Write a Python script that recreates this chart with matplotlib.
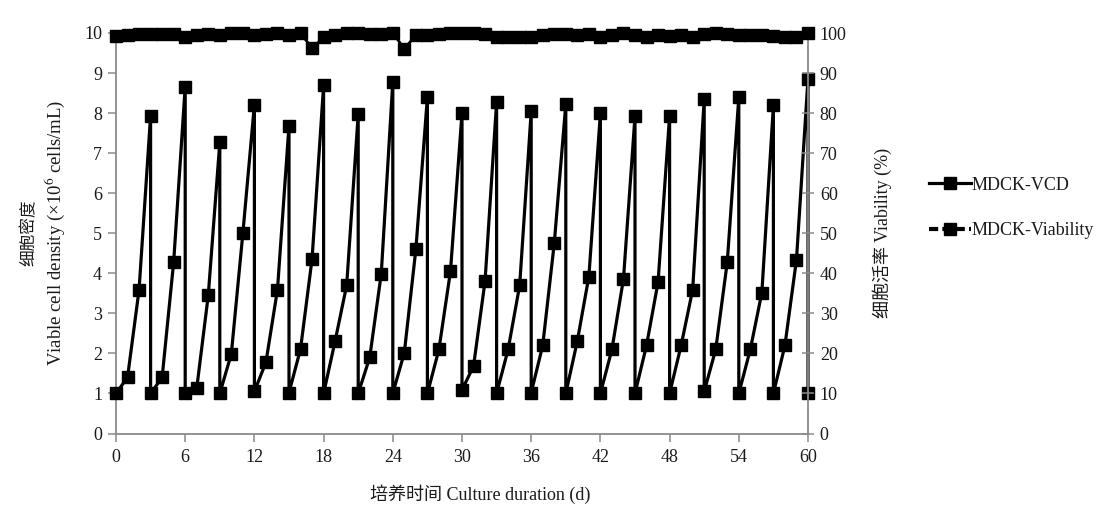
import matplotlib
matplotlib.use("Agg")
import matplotlib.pyplot as plt
from matplotlib.lines import Line2D

# -------------------------------------------------
# Data
# -------------------------------------------------
# VCD: each passage starts at ~1e6 cells/mL and grows for 3 days,
# then drops back (two points at the same day).
vcd_days = [0, 1, 2, 3, 3, 4, 5, 6, 6, 7, 8, 9, 9, 10, 11, 12,
            12, 13, 14, 15, 15, 16, 17, 18, 18, 19, 20, 21, 21, 22, 23, 24,
            24, 25, 26, 27, 27, 28, 29, 30, 30, 31, 32, 33, 33, 34, 35, 36,
            36, 37, 38, 39, 39, 40, 41, 42, 42, 43, 44, 45, 45, 46, 47, 48,
            48, 49, 50, 51, 51, 52, 53, 54, 54, 55, 56, 57, 57, 58, 59, 60,
            60]
vcd_values = [1.00, 1.40, 3.59, 7.94, 1.00, 1.40, 4.28, 8.66,
              1.00, 1.13, 3.45, 7.27, 1.00, 1.99, 5.00, 8.21,
              1.05, 1.78, 3.59, 7.69, 1.02, 2.11, 4.36, 8.69,
              1.00, 2.31, 3.70, 7.97, 1.00, 1.90, 3.99, 8.78,
              1.00, 2.02, 4.60, 8.40, 1.00, 2.10, 4.05, 8.00,
              1.09, 1.68, 3.81, 8.27, 1.00, 2.10, 3.70, 8.04,
              1.02, 2.20, 4.75, 8.22, 1.00, 2.31, 3.92, 8.00,
              1.00, 2.10, 3.86, 7.92, 1.00, 2.20, 3.78, 7.94,
              1.00, 2.20, 3.59, 8.34, 1.05, 2.10, 4.28, 8.39,
              1.00, 2.10, 3.52, 8.19, 1.00, 2.20, 4.34, 8.86,
              1.00]

viab_days = [0, 1, 2, 3, 4, 5, 6, 7, 8, 9, 10, 11, 12, 13, 14, 15, 16, 17, 18, 19,
             20, 21, 22, 23, 24, 25, 26, 27, 28, 29, 30, 31, 32, 33, 34, 35, 36, 37, 38, 39,
             40, 41, 42, 43, 44, 45, 46, 47, 48, 49, 50, 51, 52, 53, 54, 55, 56, 57, 58, 59,
             60]
viab_values = [99.2, 99.6, 99.8, 99.8, 99.7, 99.8, 99.0, 99.6, 99.8, 99.4,
               100.0, 99.9, 99.6, 99.8, 99.9, 99.5, 100.0, 96.2, 98.9, 99.4,
               99.9, 99.9, 99.7, 99.8, 100.0, 96.1, 99.4, 99.6, 99.7, 99.9,
               100.0, 99.9, 99.8, 99.1, 99.0, 98.9, 99.1, 99.5, 99.7, 99.8,
               99.6, 99.8, 99.0, 99.6, 99.9, 99.5, 98.9, 99.5, 99.3, 99.4,
               98.9, 99.7, 99.9, 99.7, 99.4, 99.6, 99.4, 99.3, 99.0, 98.9,
               100.0]

x_ticks = [0, 6, 12, 18, 24, 30, 36, 42, 48, 54, 60]
left_ticks = [0, 1, 2, 3, 4, 5, 6, 7, 8, 9, 10]
right_ticks = [0, 10, 20, 30, 40, 50, 60, 70, 80, 90, 100]

# -------------------------------------------------
# Fonts
# -------------------------------------------------
FAMILY = ["Liberation Serif", "Noto Sans CJK SC", "DejaVu Sans"]
plt.rcParams["font.family"] = FAMILY
plt.rcParams["mathtext.fontset"] = "stix"
SPINE = "#8a8a8a"
TXT = "#1a1a1a"

# -------------------------------------------------
# Figure and axes
# -------------------------------------------------
fig = plt.figure(figsize=(11.2, 5.25), dpi=100)
ax = fig.add_axes([116 / 1120, 1 - 433.5 / 525, 692 / 1120, 400.5 / 525])
ax2 = ax.twinx()

vcd_line, = ax.plot(vcd_days, vcd_values, color="black", lw=2.3,
                    marker="s", ms=9, clip_on=False, zorder=3,
                    label="MDCK-VCD")
# markers sit so close together that the dashes are hidden; draw solid
ax2.plot(viab_days, viab_values, color="black", lw=2.0,
         marker="s", ms=9, clip_on=False, zorder=3)
viab_handle = Line2D([], [], color="black", lw=3.0, ls=(0, (2.2, 1.0)),
                     marker="s", ms=9, label="MDCK-Viability")

ax.set_xlim(0, 60)
ax.set_ylim(0, 10)
ax2.set_ylim(0, 100)
ax.set_xticks(x_ticks)
ax.set_yticks(left_ticks)
ax2.set_yticks(right_ticks)

for a in (ax, ax2):
    a.spines["top"].set_visible(False)
    for s in ("left", "right", "bottom"):
        a.spines[s].set_color(SPINE)
        a.spines[s].set_linewidth(1.3)
ax.spines["right"].set_visible(False)
ax2.spines["left"].set_visible(False)
ax2.spines["bottom"].set_visible(False)

ax.tick_params(axis="both", direction="out", length=6, width=1.1,
               color=SPINE, labelsize=13, labelcolor=TXT, pad=4)
ax.tick_params(axis="x", pad=5)
ax2.tick_params(axis="y", direction="inout", length=9, width=1.1,
                color=SPINE, labelsize=13, labelcolor=TXT, pad=4)

# -------------------------------------------------
# Axis labels
# -------------------------------------------------
fig.text(30 / 1120, 1 - 233 / 525, "细胞密度", rotation=90, ha="center",
         va="center", fontsize=12, color=TXT)
fig.text(55 / 1120, 1 - 233 / 525, "Viable cell density (×10$^{6}$ cells/mL)",
         rotation=90, ha="center", va="center", fontsize=13.5, color=TXT)
fig.text(882 / 1120, 1 - 233 / 525, "细胞活率 Viability (%)", rotation=90,
         ha="center", va="center", fontsize=13, color=TXT)
fig.text(480 / 1120, 1 - 494 / 525, "培养时间 Culture duration (d)",
         ha="center", va="center", fontsize=13, color=TXT)

# -------------------------------------------------
# Legend
# -------------------------------------------------
fig.legend(handles=[vcd_line, viab_handle], loc="center left",
           bbox_to_anchor=(920 / 1120, 1 - 208 / 525), frameon=False,
           fontsize=13, handlelength=2.3, handletextpad=0.08,
           labelspacing=1.6, borderpad=0, numpoints=1, labelcolor=TXT)

fig.savefig("out.png", dpi=100)
